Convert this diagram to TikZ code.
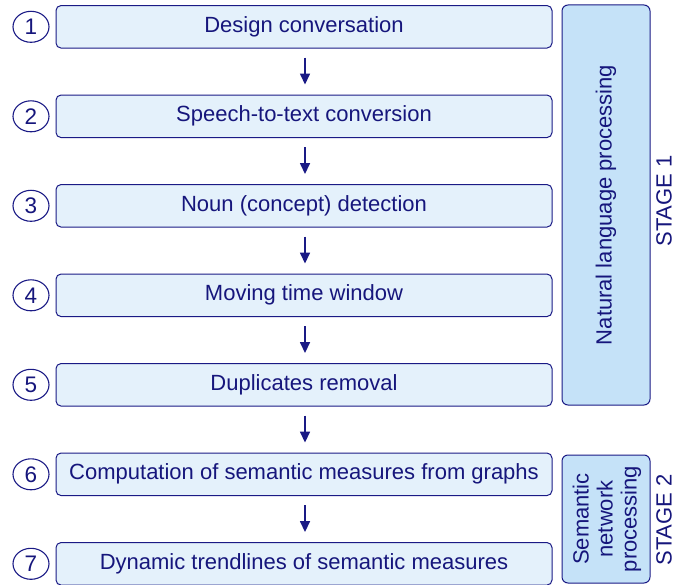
\documentclass[tikz,border=0pt]{standalone}
\usepackage{fontspec}
\setmainfont{Liberation Sans}
\usetikzlibrary{arrows.meta,shapes.geometric}
\definecolor{navy}{HTML}{1A1A85}
\definecolor{txt}{HTML}{16167C}
\definecolor{boxfill}{HTML}{E4F1FB}
\definecolor{panelfill}{HTML}{C5E2F8}
\begin{document}
\begin{tikzpicture}[x=1pt,y=-1pt,
  stepbox/.style={draw=navy,line width=1pt,fill=boxfill,rounded corners=5pt,
    minimum width=496pt,minimum height=42.5pt,inner sep=0pt,text=txt,
    font=\fontsize{22}{24}\selectfont},
  numcirc/.style={draw=navy,line width=1.1pt,ellipse,minimum width=36pt,minimum height=31pt,
    inner sep=0pt,text=txt,font=\fontsize{22.5}{24}\selectfont},
  panel/.style={draw=navy,line width=1pt,fill=panelfill,rounded corners=6pt,inner sep=0pt},
  lbl/.style={text=txt,font=\fontsize{22}{24}\selectfont,inner sep=0pt,align=center},
  flow/.style={draw=navy,line width=1.5pt,-{Triangle[length=11pt,width=10pt]},
    shorten <=9pt,shorten >=10pt}]
\useasboundingbox (0,0) rectangle (676,585);
\foreach \i/\t in {1/Design conversation,2/Speech-to-text conversion,3/Noun (concept) detection,
  4/Moving time window,5/Duplicates removal,6/Computation of semantic measures from graphs,
  7/Dynamic trendlines of semantic measures}{
  \node[stepbox] (b\i) at (304,{26.8+89.5*(\i-1)}) {\t};
  \node[numcirc] (c\i) at (31,{26.8+89.5*(\i-1)}) {\i};
}
\foreach \i/\j in {1/2,2/3,3/4,4/5,5/6,6/7}{
  \draw[flow] ([xshift=1pt]b\i.south) -- ([xshift=1pt]b\j.north);
}
\draw[panel] (562,5) rectangle (650,405);
\node[lbl,rotate=90] (nlp) at (606,205) {Natural language processing};
\node[lbl,rotate=90] (s1) at (664,201) {STAGE 1};
\draw[panel] (562,455) rectangle (650,583);
\node[lbl,rotate=90] (snp) at (607,519) {Semantic\\network\\processing};
\node[lbl,rotate=90] (s2) at (664,520) {STAGE 2};
\end{tikzpicture}
\end{document}
